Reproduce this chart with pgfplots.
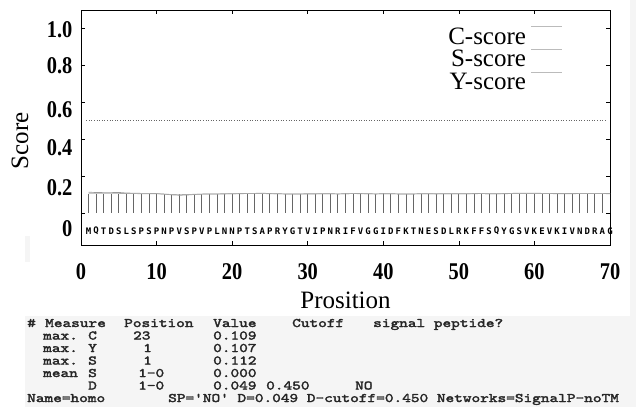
\documentclass[border=0pt]{standalone}
\usepackage{pgfplots}
\pgfplotsset{compat=1.18}
\usepackage{fontspec}
\newfontfamily\labfont{Liberation Serif}
\newfontfamily\numfont[FakeStretch=0.85]{Liberation Serif}
\newfontfamily\tabfont[FakeStretch=1.27, FakeBold=2.5]{lmmono10-regular.otf}
\newfontfamily\seqfont{DejaVu Sans Mono}
\newcommand{\lab}{\labfont\fontsize{25bp}{25bp}\selectfont}
\newcommand{\num}{\numfont\bfseries\fontsize{24bp}{24bp}\selectfont}
\newcommand{\tab}{\tabfont\fontsize{13bp}{13bp}\selectfont}
% place a table word at a pixel position (x, baseline y)
\newcommand{\tx}[3]{\node[anchor=base west, inner sep=0pt, font=\tab, text=black!85] at (#1bp,-#2bp) {#3};}

\definecolor{barc}{HTML}{666666}
\definecolor{sline}{HTML}{999999}
\definecolor{yline}{HTML}{AAAAAA}
\definecolor{legl}{HTML}{BBBBBB}

\begin{document}
\begin{tikzpicture}
\useasboundingbox (0bp,0bp) rectangle (636bp,-411bp);
\fill[black!4] (25bp,-316bp) rectangle (636bp,-407bp);
\fill[black!4] (630bp,0bp) rectangle (636bp,-316bp);
\fill[black!4] (25bp,-236bp) rectangle (30bp,-262bp);
\begin{axis}[
  at={(81bp,-245bp)}, anchor=south west,
  width=529bp, height=235bp, scale only axis,
  xmin=0, xmax=70, ymin=-0.173, ymax=1.097,
  axis line style={black, line width=0.8bp},
  xtick={0,10,...,70}, xticklabels={0,10,20,30,40,50,60,70},
  ytick={0,0.2,0.4,0.6,0.8,1.0}, yticklabels={},
  major tick length=4bp,
  tick style={black, line width=0.6bp},
  xticklabel style={font=\num, anchor=base, inner sep=0pt, yshift=-34bp},
  yticklabel style={font=\num, anchor=east, inner sep=0pt, xshift=-8.5bp},
  extra y ticks={-0.086,0.135,0.351,0.557,0.795,0.989},
  extra y tick labels={0,0.2,0.4,0.6,0.8,1.0},
  extra y tick style={major tick length=0pt},
  xlabel={Prosition}, ylabel={Score},
  xlabel style={font=\lab, at={(axis description cs:0.5,-0.235)}, anchor=center},
  ylabel style={font=\lab, at={(axis description cs:-0.1153,0.443)}, anchor=center},
  legend plot pos=right,
  legend cell align=right,
  legend style={draw=none, fill=none, inner sep=0pt, column sep=5bp, row sep=3.5bp,
    at={(axis description cs:0.911,0.932)}, anchor=north east,
    nodes={font=\lab, inner sep=0pt}},
  legend image code/.code={\draw[#1] (0bp,10bp) -- (31bp,10bp);},
]
% C-score
\addplot[ycomb, barc, line width=0.9bp, forget plot] coordinates {
(1,0.104)(2,0.104)(3,0.105)(4,0.104)(5,0.105)(6,0.103)(7,0.104)(8,0.104)(9,0.103)(10,0.104)
(11,0.103)(12,0.104)(13,0.103)(14,0.104)(15,0.104)(16,0.104)(17,0.105)(18,0.104)(19,0.105)(20,0.105)
(21,0.106)(22,0.107)(23,0.109)(24,0.105)(25,0.104)(26,0.104)(27,0.103)(28,0.104)(29,0.104)(30,0.104)
(31,0.104)(32,0.105)(33,0.104)(34,0.104)(35,0.106)(36,0.107)(37,0.105)(38,0.104)(39,0.105)(40,0.106)
(41,0.104)(42,0.104)(43,0.104)(44,0.104)(45,0.105)(46,0.104)(47,0.104)(48,0.104)(49,0.105)(50,0.104)
(51,0.104)(52,0.105)(53,0.106)(54,0.104)(55,0.104)(56,0.105)(57,0.106)(58,0.106)(59,0.104)(60,0.105)
(61,0.104)(62,0.104)(63,0.105)(64,0.104)(65,0.105)(66,0.106)(67,0.106)(68,0.105)(69,0.106)(70,0.104)
};
% S-score
\addplot[sline, line width=0.7bp, forget plot] coordinates {
(1,0.112)(2,0.111)(3,0.110)(4,0.110)(5,0.111)(6,0.108)(7,0.107)(8,0.106)(9,0.106)(10,0.105)
(11,0.102)(12,0.098)(13,0.096)(14,0.097)(15,0.100)(16,0.102)(17,0.103)(18,0.103)(19,0.104)(20,0.104)
(21,0.105)(22,0.105)(23,0.106)(24,0.107)(25,0.105)(26,0.104)(27,0.103)(28,0.103)(29,0.103)(30,0.104)
(31,0.104)(32,0.104)(33,0.104)(34,0.103)(35,0.104)(36,0.105)(37,0.105)(38,0.104)(39,0.103)(40,0.104)
(41,0.104)(42,0.103)(43,0.103)(44,0.103)(45,0.104)(46,0.104)(47,0.104)(48,0.104)(49,0.104)(50,0.104)
(51,0.104)(52,0.105)(53,0.105)(54,0.104)(55,0.104)(56,0.105)(57,0.106)(58,0.107)(59,0.107)(60,0.107)
(61,0.106)(62,0.106)(63,0.105)(64,0.105)(65,0.105)(66,0.105)(67,0.106)(68,0.106)(69,0.106)(70,0.105)
};
% Y-score
\addplot[yline, line width=0.7bp, forget plot] coordinates {
(1,0.107)(2,0.107)(3,0.106)(4,0.106)(5,0.106)(6,0.105)(7,0.105)(8,0.104)(9,0.104)(10,0.104)
(11,0.102)(12,0.100)(13,0.099)(14,0.100)(15,0.101)(16,0.102)(17,0.103)(18,0.103)(19,0.103)(20,0.104)
(21,0.104)(22,0.105)(23,0.106)(24,0.105)(25,0.104)(26,0.104)(27,0.103)(28,0.103)(29,0.103)(30,0.103)
(31,0.103)(32,0.104)(33,0.104)(34,0.103)(35,0.104)(36,0.105)(37,0.104)(38,0.104)(39,0.103)(40,0.104)
(41,0.104)(42,0.103)(43,0.103)(44,0.103)(45,0.104)(46,0.104)(47,0.103)(48,0.104)(49,0.104)(50,0.104)
(51,0.104)(52,0.104)(53,0.105)(54,0.104)(55,0.104)(56,0.104)(57,0.105)(58,0.105)(59,0.105)(60,0.105)
(61,0.105)(62,0.105)(63,0.104)(64,0.104)(65,0.104)(66,0.105)(67,0.105)(68,0.105)(69,0.105)(70,0.104)
};
% cutoff line
\addplot[dotted, black!60, line width=0.6bp, forget plot] coordinates {(0.7,0.5) (69.5,0.5)};
% sequence
\addplot[draw=none, mark=none, forget plot, nodes near coords, point meta=explicit symbolic,
  every node near coord/.style={anchor=center, inner sep=0pt, font=\seqfont\bfseries\fontsize{9bp}{9bp}\selectfont}]
coordinates {
(1,-0.097)[M](2,-0.097)[Q](3,-0.097)[T](4,-0.097)[D](5,-0.097)[S](6,-0.097)[L](7,-0.097)[S](8,-0.097)[P](9,-0.097)[S](10,-0.097)[P]
(11,-0.097)[N](12,-0.097)[P](13,-0.097)[V](14,-0.097)[S](15,-0.097)[P](16,-0.097)[V](17,-0.097)[P](18,-0.097)[L](19,-0.097)[N](20,-0.097)[N]
(21,-0.097)[P](22,-0.097)[T](23,-0.097)[S](24,-0.097)[A](25,-0.097)[P](26,-0.097)[R](27,-0.097)[Y](28,-0.097)[G](29,-0.097)[T](30,-0.097)[V]
(31,-0.097)[I](32,-0.097)[P](33,-0.097)[N](34,-0.097)[R](35,-0.097)[I](36,-0.097)[F](37,-0.097)[V](38,-0.097)[G](39,-0.097)[G](40,-0.097)[I]
(41,-0.097)[D](42,-0.097)[F](43,-0.097)[K](44,-0.097)[T](45,-0.097)[N](46,-0.097)[E](47,-0.097)[S](48,-0.097)[D](49,-0.097)[L](50,-0.097)[R]
(51,-0.097)[K](52,-0.097)[F](53,-0.097)[F](54,-0.097)[S](55,-0.097)[Q](56,-0.097)[Y](57,-0.097)[G](58,-0.097)[S](59,-0.097)[V](60,-0.097)[K]
(61,-0.097)[E](62,-0.097)[V](63,-0.097)[K](64,-0.097)[I](65,-0.097)[V](66,-0.097)[N](67,-0.097)[D](68,-0.097)[R](69,-0.097)[A](70,-0.097)[G]
};
\addlegendimage{legl, line width=0.7bp}\addlegendentry{C-score}
\addlegendimage{legl, line width=0.7bp}\addlegendentry{S-score}
\addlegendimage{legl, line width=0.7bp}\addlegendentry{Y-score}
\end{axis}
% result table
\tx{27}{327}{\#}\tx{45}{327}{Measure}\tx{124}{327}{Position}\tx{213}{327}{Value}\tx{292}{327}{Cutoff}\tx{373}{327}{signal peptide?}
\tx{43}{339.5}{max.}\tx{88}{339.5}{C}\tx{133}{339.5}{23}\tx{213}{339.5}{0.109}
\tx{43}{352}{max.}\tx{88}{352}{Y}\tx{143}{352}{1}\tx{213}{352}{0.107}
\tx{43}{364.5}{max.}\tx{88}{364.5}{S}\tx{143}{364.5}{1}\tx{213}{364.5}{0.112}
\tx{43}{377}{mean}\tx{88}{377}{S}\tx{138}{377}{1-0}\tx{213}{377}{0.000}
\tx{88}{389.5}{D}\tx{138}{389.5}{1-0}\tx{213}{389.5}{0.049}\tx{266}{389.5}{0.450}\tx{355}{389.5}{NO}
\tx{27}{402}{Name=homo}\tx{168}{402}{SP='NO' D=0.049 D-cutoff=0.450 Networks=SignalP-noTM}
\end{tikzpicture}
\end{document}
